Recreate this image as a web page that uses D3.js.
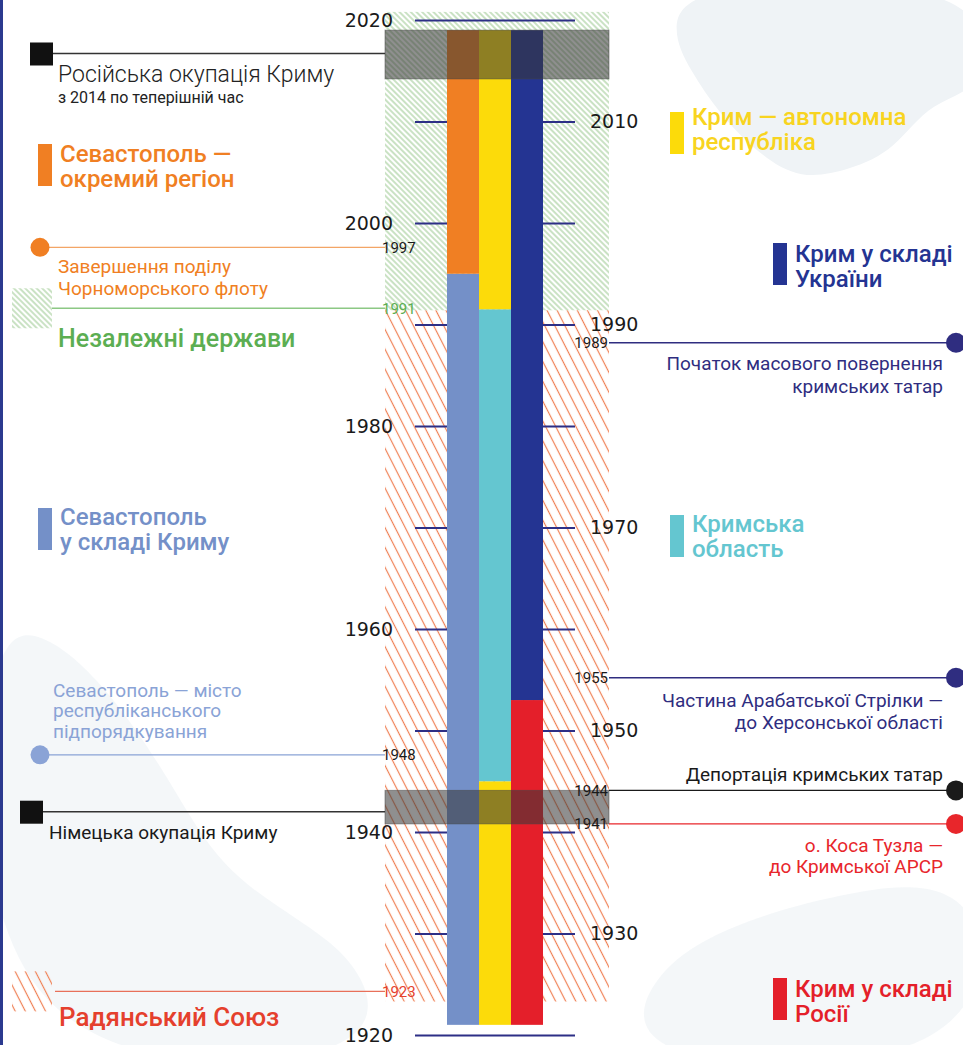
<!DOCTYPE html>
<html>
<head>
<meta charset="utf-8">
<script src="https://cdn.jsdelivr.net/npm/d3@7"></script>
<style>
  body { margin: 0; background: #fff; }
  svg { display: block; }
  text { font-family: Roboto, "Noto Sans", sans-serif; }
</style>
</head>
<body>
<div id="chart"></div>
<script>
// ---- data (years) ----
var decades = [1920, 1930, 1940, 1950, 1960, 1970, 1980, 1990, 2000, 2010, 2020];
var leftTickLabels = [2020, 2000, 1980, 1960, 1940, 1920];
var rightTickLabels = [2010, 1990, 1970, 1950, 1930];

var columns = ['sevastopol', 'crimea', 'state'];
var sevastopolSegments = [
  {from: 1921, to: 1995, key: 'sevUnit'},
  {from: 1995, to: 2019, key: 'sevSep'}
];
var crimeaSegments = [
  {from: 1921, to: 1945, key: 'autonomy'},
  {from: 1945, to: 1991.5, key: 'oblast'},
  {from: 1991.5, to: 2019, key: 'autonomy'}
];
var stateSegments = [
  {from: 1921, to: 1953, key: 'russia'},
  {from: 1953, to: 2019, key: 'ukraine'}
];
var eras = [
  {from: 1923.3, to: 1991.4, key: 'ussr'},
  {from: 1991.4, to: 2020.8, key: 'indep'}
];
var occupations = [
  {from: 1940.8, to: 1944.1},
  {from: 2014.2, to: 2019}
];

var legendEntries = [
  {key: 'sevSep',   lines: ['Севастополь —', 'окремий регіон']},
  {key: 'sevUnit',  lines: ['Севастополь', 'у складі Криму']},
  {key: 'autonomy', lines: ['Крим — автономна', 'республіка']},
  {key: 'ukraine',  lines: ['Крим у складі', 'України']},
  {key: 'oblast',   lines: ['Кримська', 'область']},
  {key: 'russia',   lines: ['Крим у складі', 'Росії']}
];

var leftEvents = [
  {id: 'ruOcc',  at: 2016.7, label: '',     marker: 'square', lines: ['Російська окупація Криму', 'з 2014 по теперішній час']},
  {id: 'fleet',  at: 1997.6, label: '1997', marker: 'circle', lines: ['Завершення поділу', 'Чорноморського флоту']},
  {id: 'indep',  at: 1991.6, label: '1991', marker: 'hatch',  lines: ['Незалежні держави']},
  {id: 'sevCity',at: 1947.6, label: '1948', marker: 'circle', lines: ['Севастополь — місто', 'республіканського', 'підпорядкування']},
  {id: 'deOcc',  at: 1942.0, label: '',     marker: 'square', lines: ['Німецька окупація Криму']},
  {id: 'ussr',   at: 1924.3, label: '1923', marker: 'hatch',  lines: ['Радянський Союз']}
];
var rightEvents = [
  {id: 'return', at: 1988.2, label: '1989', lines: ['Початок масового повернення', 'кримських татар']},
  {id: 'arabat', at: 1955.2, label: '1955', lines: ['Частина Арабатської Стрілки —', 'до Херсонської області']},
  {id: 'deport', at: 1944.1, label: '1944', lines: ['Депортація кримських татар']},
  {id: 'tuzla',  at: 1940.8, label: '1941', lines: ['о. Коса Тузла —', 'до Кримської АРСР']}
];

// ---- styles / layout ----
var colors = {
  sevSep: '#f07f23', sevUnit: '#7490c8', autonomy: '#fcdb0a', oblast: '#64c6d0',
  ukraine: '#243492', russia: '#e41f2a', indep: '#5cae52', ussr: '#e5402d'
};
var textColors = {
  sevSep: '#f07f23', sevUnit: '#7490c8', autonomy: '#f8d420', oblast: '#64c6d0',
  ukraine: '#243492', russia: '#e41f2a'
};
var legendPos = {
  sevSep:   {x: 38,  y: 144, dy: 18},
  sevUnit:  {x: 38,  y: 508, dy: 17},
  autonomy: {x: 670, y: 112, dy: 13},
  ukraine:  {x: 773, y: 243, dy: 19},
  oblast:   {x: 670, y: 515, dy: 17},
  russia:   {x: 773, y: 978, dy: 19}
};
var leftStyle = {
  ruOcc:   {color: '#222', mx: 30, tx: 58, lineColor: '#333', offs: [29, 50], sizes: [23, 16], weight: 300},
  fleet:   {color: '#f07f23', mx: 40, tx: 58, lineColor: '#f3a566', offs: [26, 48], sizes: [19, 19], weight: 400},
  indep:   {color: '#5cae52', mx: 52, tx: 58, lineColor: '#8cc884', offs: [39], sizes: [25], weight: 500},
  sevCity: {color: '#8aa3d6', mx: 40, tx: 53, lineColor: '#8aa3d6', offs: [-58, -38, -17], sizes: [19, 19, 19], weight: 400},
  deOcc:   {color: '#1a1a1a', mx: 20, tx: 49, lineColor: '#333', offs: [27], sizes: [19], weight: 400},
  ussr:    {color: '#e5402d', mx: 55, tx: 59, lineColor: '#e8705a', offs: [35], sizes: [26], weight: 500}
};
var rightStyle = {
  return: {color: '#2f2d80', offs: [27, 50]},
  arabat: {color: '#2f2d80', offs: [29, 51]},
  deport: {color: '#1a1a1a', offs: [-9]},
  tuzla:  {color: '#e8262b', offs: [28, 49]}
};

var W = 963, H = 1045;
var svg = d3.select('#chart').append('svg')
  .attr('width', W)
  .attr('height', H);

var y = d3.scaleLinear().domain([1920, 2020]).range([1035, 20]);
var x = d3.scaleBand().domain(columns).range([447, 543]);
var bandLeft = 385, bandRight = 609;

// patterns
var defs = svg.append('defs');
function hatch(id, size, color, width, angle) {
  var p = defs.append('pattern')
    .attr('id', id)
    .attr('patternUnits', 'userSpaceOnUse')
    .attr('width', size).attr('height', size)
    .attr('patternTransform', 'rotate(' + angle + ')');
  p.append('line')
    .attr('x1', size / 2).attr('y1', 0).attr('x2', size / 2).attr('y2', size)
    .attr('stroke', color).attr('stroke-width', width);
}
hatch('hatch-indep', 4, '#a6cf9c', 1.2, -45);
hatch('hatch-ussr', 9, '#ef8155', 1.2, -27);

// background map silhouettes (faint, decorative)
var blob = d3.line().curve(d3.curveBasisClosed);
var bg = svg.append('g').attr('fill', '#eff3f6');
bg.append('path').attr('d', blob([[690, -20], [990, -20], [990, 90], [930, 100], [895, 150], [850, 170], [800, 180], [760, 155], [720, 115], [690, 70], [670, 30]]));
bg.append('path').attr('opacity', 0.7).attr('d', blob([[-20, 640], [40, 625], [110, 690], [170, 780], [220, 870], [300, 920], [370, 970], [380, 1070], [-20, 1070]]));
bg.append('path').attr('opacity', 0.7).attr('d', blob([[620, 1070], [650, 970], [730, 925], [830, 895], [990, 870], [990, 1070]]));

// left border
svg.append('rect').attr('x', 0).attr('y', 0).attr('width', 3).attr('height', H).attr('fill', '#2b3a8f');

// era hatches
svg.append('g').selectAll('rect')
  .data(eras)
  .join('rect')
    .attr('x', bandLeft)
    .attr('width', bandRight - bandLeft)
    .attr('y', d => y(d.to))
    .attr('height', d => y(d.from) - y(d.to))
    .attr('fill', d => 'url(#hatch-' + d.key + ')');

// axes: full-width tick lines, labels alternating sides
var axisL = d3.axisLeft(y)
  .tickValues(decades)
  .tickSize(160)
  .tickPadding(22)
  .tickFormat(d => leftTickLabels.includes(d) ? d : '');
var axisR = d3.axisRight(y)
  .tickValues(decades)
  .tickSize(160)
  .tickPadding(15)
  .tickFormat(d => rightTickLabels.includes(d) ? d : '');

var gL = svg.append('g').attr('transform', 'translate(575,0)').call(axisL);
var gR = svg.append('g').attr('transform', 'translate(415,0)').call(axisR);
[gL, gR].forEach(function(g) {
  g.select('.domain').remove();
  g.selectAll('.tick line').attr('stroke', '#2d2f86').attr('stroke-width', 2);
  g.selectAll('.tick text')
    .attr('fill', '#1a1a1a')
    .style('font-family', '"DejaVu Sans", sans-serif')
    .style('font-size', '19px');
});
gR.selectAll('.tick line').remove();

// columns
var colData = [
  {col: 'sevastopol', segs: sevastopolSegments},
  {col: 'crimea', segs: crimeaSegments},
  {col: 'state', segs: stateSegments}
];
svg.append('g').selectAll('g')
  .data(colData)
  .join('g')
  .selectAll('rect')
  .data(d => d.segs.map(s => Object.assign({col: d.col}, s)))
  .join('rect')
    .attr('x', d => x(d.col))
    .attr('width', x.bandwidth())
    .attr('y', d => y(d.to))
    .attr('height', d => y(d.from) - y(d.to))
    .attr('fill', d => colors[d.key]);

// occupation bands
svg.append('g').selectAll('rect')
  .data(occupations)
  .join('rect')
    .attr('x', bandLeft)
    .attr('width', bandRight - bandLeft)
    .attr('y', d => y(d.to))
    .attr('height', d => y(d.from) - y(d.to))
    .attr('fill', '#383838')
    .attr('fill-opacity', 0.56)
    .attr('stroke', '#444')
    .attr('stroke-opacity', 0.5);

// multi-line text as tspans of one text element
function multiline(sel, lines, x0, y0, step) {
  sel.selectAll('tspan')
    .data(lines)
    .join('tspan')
      .attr('x', x0)
      .attr('y', (t, i) => y0 + (Array.isArray(step) ? step[i] : i * step))
      .text(t => t);
}

// legend entries
var leg = svg.append('g').selectAll('g')
  .data(legendEntries)
  .join('g')
    .attr('transform', d => 'translate(' + legendPos[d.key].x + ',' + legendPos[d.key].y + ')');
leg.append('rect')
  .attr('width', 14).attr('height', 42)
  .attr('fill', d => colors[d.key]);
leg.append('text')
  .attr('fill', d => textColors[d.key])
  .style('font-size', '24px')
  .style('font-weight', 500)
  .each(function(d) {
    multiline(d3.select(this), d.lines, 22, legendPos[d.key].dy, 25);
  });

// left events
var le = svg.append('g').selectAll('g')
  .data(leftEvents)
  .join('g');
le.each(function(d) {
  var g = d3.select(this), s = leftStyle[d.id], yy = y(d.at);
  var x0 = d.marker === 'square' ? s.mx + 23 : s.mx;
  g.append('line')
    .attr('x1', x0).attr('x2', bandLeft)
    .attr('y1', yy).attr('y2', yy)
    .attr('stroke', s.lineColor).attr('stroke-width', 1.4);
  if (d.marker === 'circle') {
    g.append('circle').attr('cx', s.mx).attr('cy', yy).attr('r', 9.5).attr('fill', s.color);
  } else if (d.marker === 'square') {
    g.append('rect').attr('x', s.mx).attr('y', yy - 11).attr('width', 23).attr('height', 23).attr('fill', '#111');
  } else {
    g.append('rect').attr('x', 12).attr('y', yy - 20).attr('width', 40).attr('height', 40)
      .attr('fill', 'url(#hatch-' + d.id + ')');
  }
  if (d.label) {
    g.append('text')
      .attr('x', bandLeft - 3).attr('y', yy).attr('dy', '0.35em')
      .attr('fill', d.id === 'indep' ? colors.indep : d.id === 'ussr' ? colors.ussr : '#1a1a1a')
      .style('font-size', '15px')
      .text(d.label);
  }
  if (d.id === 'ruOcc') {
    // title and smaller subtitle
    d.lines.forEach(function(t, i) {
      g.append('text')
        .attr('x', s.tx).attr('y', yy + s.offs[i])
        .attr('fill', s.color)
        .style('font-size', s.sizes[i] + 'px')
        .style('font-weight', i === 0 ? 300 : 400)
        .text(t);
    });
  } else {
    g.append('text')
      .attr('fill', s.color)
      .style('font-size', s.sizes[0] + 'px')
      .style('font-weight', s.weight)
      .call(multiline, d.lines, s.tx, yy, s.offs);
  }
});

// right events
var re = svg.append('g').selectAll('g')
  .data(rightEvents)
  .join('g');
re.each(function(d) {
  var g = d3.select(this), s = rightStyle[d.id], yy = y(d.at);
  g.append('line')
    .attr('x1', bandRight).attr('x2', 955)
    .attr('y1', yy).attr('y2', yy)
    .attr('stroke', s.color).attr('stroke-width', 1.4);
  g.append('circle').attr('cx', 956).attr('cy', yy).attr('r', 10).attr('fill', s.color);
  g.append('text')
    .attr('x', bandRight - 1).attr('y', yy).attr('dy', '0.35em')
    .attr('text-anchor', 'end')
    .attr('fill', '#1a1a1a')
    .style('font-size', '15px')
    .text(d.label);
  g.append('text')
    .attr('text-anchor', 'end')
    .attr('fill', s.color)
    .style('font-size', '19px')
    .call(multiline, d.lines, 943, yy, s.offs);
});
</script>
</body>
</html>
